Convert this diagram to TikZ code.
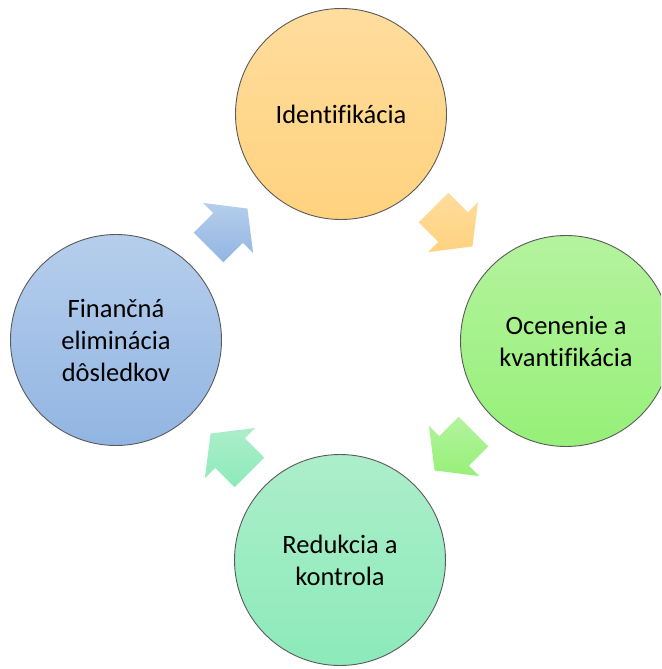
\documentclass[tikz,border=0pt]{standalone}
\usepackage{fontspec}
\setmainfont{Carlito}[Ligatures=NoCommon]
\definecolor{orT}{RGB}{255,221,157}
\definecolor{orB}{RGB}{255,210,126}
\definecolor{grT}{RGB}{180,243,158}
\definecolor{grB}{RGB}{150,240,120}
\definecolor{mnT}{RGB}{172,238,202}
\definecolor{mnB}{RGB}{140,234,186}
\definecolor{blT}{RGB}{182,206,236}
\definecolor{blB}{RGB}{145,181,226}
\definecolor{rim}{RGB}{90,90,90}
\begin{document}
\begin{tikzpicture}[x=1pt,y=-1pt,
  stage/.style={circle, minimum size=211pt, inner sep=0pt, draw=rim, line width=0.9pt,
    align=center, font=\fontsize{26.5}{32}\selectfont, text=black},
  carrow/.style={draw=none}]
\useasboundingbox (0,0) rectangle (661,669);
\clip (0,0) rectangle (661,669);
% stages
\node[stage, top color=orT, bottom color=orB] (ident) at (341,114) {Identifik\'acia};
\node[stage, top color=grT, bottom color=grB] (ocen) at (566,341) {Ocenenie a\\kvantifik\'acia};
\node[stage, top color=mnT, bottom color=mnB] (redu) at (340,560) {Redukcia a\\kontrola};
\node[stage, top color=blT, bottom color=blB] (fin) at (116,340) {Finančn\'a\\elimin\'acia\\d\^osledkov};
% cycle arrows
\begin{scope}[shift={(453,227)}, rotate=-45]
  \shade[carrow, top color=orT, bottom color=orB] (-27.5,-21) -- (0,-21) -- (0,-35.5) -- (27.5,0) -- (0,35.5) -- (0,21) -- (-27.5,21) -- cycle;
\end{scope}
\begin{scope}[shift={(454,451)}, rotate=-135]
  \shade[carrow, top color=grT, bottom color=grB] (-27.5,-21) -- (0,-21) -- (0,-35.5) -- (27.5,0) -- (0,35.5) -- (0,21) -- (-27.5,21) -- cycle;
\end{scope}
\begin{scope}[shift={(230,453)}, rotate=135]
  \shade[carrow, top color=mnT, bottom color=mnB] (-27.5,-21) -- (0,-21) -- (0,-35.5) -- (27.5,0) -- (0,35.5) -- (0,21) -- (-27.5,21) -- cycle;
\end{scope}
\begin{scope}[shift={(228,228)}, rotate=45]
  \shade[carrow, top color=blT, bottom color=blB] (-27.5,-21) -- (0,-21) -- (0,-35.5) -- (27.5,0) -- (0,35.5) -- (0,21) -- (-27.5,21) -- cycle;
\end{scope}
\end{tikzpicture}
\end{document}
